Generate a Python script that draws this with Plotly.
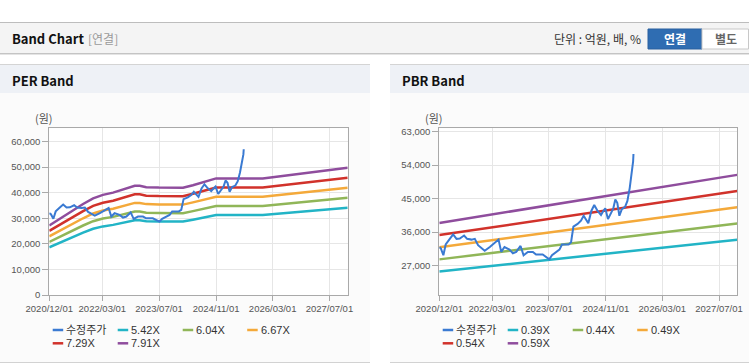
import plotly.graph_objects as go

W, H = 749, 364


def px(x):
    return x / W


def py(y):
    return 1 - y / H


# ---------------- data ----------------
price_label = "수정주가"
price_dates = [
    "2020-12-01", "2020-12-15", "2021-01-05", "2021-01-25", "2021-03-01", "2021-03-30",
    "2021-04-28", "2021-05-26", "2021-07-02", "2021-07-28", "2021-09-03", "2021-10-02",
    "2021-10-30", "2021-12-26", "2022-02-08", "2022-03-20", "2022-04-24", "2022-05-17",
    "2022-06-14", "2022-07-27", "2022-08-25", "2022-09-23", "2022-10-30", "2022-11-25",
    "2023-01-01", "2023-02-13", "2023-03-12", "2023-05-08", "2023-06-06", "2023-07-04",
    "2023-07-27", "2023-08-31", "2023-09-29", "2023-10-21", "2023-11-25", "2023-12-17",
    "2024-01-07", "2024-01-27", "2024-03-03", "2024-04-01", "2024-04-24", "2024-05-14",
    "2024-06-03", "2024-06-29", "2024-07-24", "2024-08-22", "2024-09-20", "2024-10-10",
    "2024-10-27", "2024-11-19", "2024-12-15", "2025-01-04", "2025-01-21", "2025-02-07",
    "2025-02-25", "2025-03-18", "2025-04-15", "2025-05-05", "2025-05-25", "2025-06-12",
    "2025-06-23", "2025-06-26",
]
price_values = [
    32000, 31600, 29800, 32700, 34200, 35400,
    34200, 34300, 35100, 34200, 34000, 34200,
    32500, 31000, 32000, 33100, 34000, 30700,
    32000, 31300, 30300, 30700, 32300, 29800,
    30700, 30700, 30000, 30000, 29400, 28700,
    29800, 30700, 31300, 32700, 32700, 32700,
    33300, 37500, 38200, 39100, 40400, 39500,
    38400, 41700, 43300, 41700, 40600, 41700,
    42400, 39500, 41300, 42400, 44800, 43900,
    40400, 42200, 42800, 44400, 47900, 51900,
    55000, 57000,
]

per_dates = [
    "2020-12-01", "2021-01-18", "2021-03-28", "2021-06-23", "2021-09-17", "2021-12-12",
    "2022-03-06", "2022-06-01", "2022-08-25", "2022-12-04", "2023-01-16", "2023-03-13",
    "2023-06-28", "2023-10-27", "2024-01-22", "2024-04-16", "2024-08-07", "2024-11-01",
    "2025-12-06", "2027-12-05",
]
per_542 = [18650, 19620, 20810, 22600, 24390, 25910, 26830, 27430, 28350, 29270,
           29270, 28890, 28780, 28670, 28730, 29430, 30350, 31250, 31250, 34120]
per_604 = [20780, 21870, 23190, 25190, 27180, 28870, 29900, 30560, 31590, 32620,
           32620, 32190, 32070, 31950, 32010, 32800, 33820, 34820, 34820, 38020]
per_667 = [22950, 24150, 25610, 27810, 30020, 31880, 33020, 33750, 34880, 36020,
           36020, 35550, 35420, 35280, 35350, 36220, 37350, 38450, 38450, 41990]
per_729 = [25080, 26390, 27990, 30400, 32810, 34850, 36090, 36890, 38130, 39370,
           39370, 38860, 38710, 38560, 38640, 39590, 40820, 42030, 42030, 45890]
per_791 = [27210, 28630, 30370, 32990, 35600, 37810, 39160, 40030, 41370, 42710,
           42710, 42160, 42000, 41840, 41920, 42950, 44300, 45600, 45600, 49790]
per_labels = ["5.42X", "6.04X", "6.67X", "7.29X", "7.91X"]

pbr_dates = ["2020-12-01", "2023-07-01", "2027-12-04"]
pbr_039 = [25430, 28590, 33970]
pbr_044 = [28690, 32250, 38320]
pbr_049 = [31950, 35920, 42680]
pbr_054 = [35210, 39580, 47030]
pbr_059 = [38470, 43250, 51390]
pbr_labels = ["0.39X", "0.44X", "0.49X", "0.54X", "0.59X"]

x_tickvals = ["2020-12-01", "2022-03-01", "2023-07-01", "2024-11-01", "2026-03-01", "2027-07-01"]
x_ticktext = ["2020/12/01", "2022/03/01", "2023/07/01", "2024/11/01", "2026/03/01", "2027/07/01"]
per_yticks = [0, 10000, 20000, 30000, 40000, 50000, 60000]
pbr_yticks = [27000, 36000, 45000, 54000, 63000]

# ---------------- style ----------------
price_color = "#3a7ad2"
band_colors = ["#22b4c6", "#90b658", "#f4a93a", "#d1322b", "#8f4d9d"]
LAT = "Liberation Sans, Noto Sans CJK KR"
KR = "Noto Sans CJK KR"

fig = go.Figure()

per_series = [per_542, per_604, per_667, per_729, per_791]
pbr_series = [pbr_039, pbr_044, pbr_049, pbr_054, pbr_059]

for vals, col, lab in zip(per_series, band_colors, per_labels):
    fig.add_trace(go.Scatter(x=per_dates, y=vals, mode="lines", name=lab,
                             line=dict(color=col, width=2.5), xaxis="x", yaxis="y",
                             showlegend=False, hoverinfo="skip"))
fig.add_trace(go.Scatter(x=price_dates, y=price_values, mode="lines", name=price_label,
                         line=dict(color=price_color, width=2), xaxis="x", yaxis="y",
                         showlegend=False, hoverinfo="skip"))

for vals, col, lab in zip(pbr_series, band_colors, pbr_labels):
    fig.add_trace(go.Scatter(x=pbr_dates, y=vals, mode="lines", name=lab,
                             line=dict(color=col, width=2.5), xaxis="x2", yaxis="y2",
                             showlegend=False, hoverinfo="skip"))
fig.add_trace(go.Scatter(x=price_dates, y=price_values, mode="lines", name=price_label,
                         line=dict(color=price_color, width=2), xaxis="x2", yaxis="y2",
                         showlegend=False, hoverinfo="skip"))

# ---------------- layout geometry ----------------
PLOT_TOP, PLOT_BOT = 128.3, 295.0
L_X0, L_X1 = 49.3, 347.7
R_X0, R_X1 = 439.3, 737.3
X_RANGE = ["2020-12-01", "2027-12-05"]

axis_common = dict(showline=True, linecolor="#a9a9a9", linewidth=1, mirror=True,
                   ticks="outside", tickcolor="#a9a9a9", ticklen=5, automargin=False,
                   showgrid=True, gridcolor="#e6e6e6", gridwidth=1, zeroline=False,
                   tickfont=dict(family=LAT, size=9.5, color="#555555"))

xa = dict(axis_common, type="date", range=X_RANGE, tickmode="array",
          tickvals=x_tickvals, ticktext=x_ticktext, ticklen=5)
ya_common = dict(axis_common, tickmode="array", tickformat=",d", ticklen=6)

shapes = []


def rect(x0, y0, x1, y1, fill, line=None, lw=0):
    shapes.append(dict(type="rect", xref="paper", yref="paper",
                       x0=px(x0), x1=px(x1), y0=py(y1), y1=py(y0),
                       fillcolor=fill, layer="below",
                       line=dict(color=line or fill, width=lw)))


def hline(x0, x1, y, color, w=1):
    shapes.append(dict(type="line", xref="paper", yref="paper",
                       x0=px(x0), x1=px(x1), y0=py(y), y1=py(y),
                       line=dict(color=color, width=w), layer="below"))


# header bar
rect(0, 23, 749, 53, "#f4f4f4")
hline(0, 749, 22.5, "#bdbdbd")
hline(0, 749, 53.5, "#c4c4c4")
hline(0, 749, 54.5, "#e4e4e4")
# panels
for x0, x1 in [(0, 370), (390, 749)]:
    rect(x0, 93, x1, 362, "#fbfbfb")
    rect(x0, 64, x1, 93, "#eef1f6")
    hline(x0, x1, 64.5, "#d4d4d4")
    hline(x0, x1, 362.5, "#d2d2d2")
# plot backgrounds
rect(L_X0, PLOT_TOP, L_X1, PLOT_BOT, "#ffffff")
rect(R_X0, PLOT_TOP, R_X1, PLOT_BOT, "#ffffff")
# buttons
rect(648, 29, 702, 49, "#2f6db2", "#2a619f", 1)
rect(702, 29, 748.5, 49, "#ffffff", "#c8c8c8", 1)

annotations = []


def text(x, y, s, size=12, color="#333333", family=KR, xanchor="left"):
    annotations.append(dict(xref="paper", yref="paper", x=px(x), y=py(y), text=s,
                            showarrow=False, xanchor=xanchor, yanchor="middle",
                            font=dict(family=family, size=size, color=color),
                            borderpad=0))


text(11, 38.3, "<b>Band Chart</b>", size=13, color="#111111")
text(87, 38.5, "[연결]", size=12, color="#9a9a9a")
text(642, 39, "단위 : 억원, 배, %", size=12, color="#333333", xanchor="right")
text(675, 39, "<b>연결</b>", size=12, color="#ffffff", xanchor="center")
text(725.5, 39, "<b>별도</b>", size=12, color="#666666", xanchor="center")
text(11, 80.5, "<b>PER Band</b>", size=13, color="#111111")
text(401, 80.5, "<b>PBR Band</b>", size=13, color="#111111")
text(44, 118, "(원)", size=11, color="#555555", xanchor="center")
text(434, 118, "(원)", size=11, color="#555555", xanchor="center")


def legend(x_base, labels):
    items = [(price_label, price_color)] + list(zip(labels, band_colors))
    offsets = [(0, 330), (65, 330), (130, 330), (194.5, 330), (0, 343.3), (65, 343.3)]
    for (lab, col), (dx, yy) in zip(items, offsets):
        x0 = x_base + dx
        shapes.append(dict(type="line", xref="paper", yref="paper",
                           x0=px(x0), x1=px(x0 + 10.5), y0=py(yy), y1=py(yy),
                           line=dict(color=col, width=2.5)))
        text(x0 + 12.5, yy, lab, size=11, color="#333333", family=LAT)


legend(52.7, per_labels)
legend(442.7, pbr_labels)

fig.update_layout(
    width=W, height=H, autosize=False,
    margin=dict(l=0, r=0, t=0, b=0, pad=0, autoexpand=False),
    paper_bgcolor="#ffffff", plot_bgcolor="rgba(0,0,0,0)",
    showlegend=False,
    xaxis=dict(xa, domain=[px(L_X0), px(L_X1)], anchor="y"),
    yaxis=dict(ya_common, domain=[py(PLOT_BOT), py(PLOT_TOP)], anchor="x",
               range=[0, 65200], tickvals=per_yticks),
    xaxis2=dict(xa, domain=[px(R_X0), px(R_X1)], anchor="y2"),
    yaxis2=dict(ya_common, domain=[py(PLOT_BOT), py(PLOT_TOP)], anchor="x2",
                range=[19120, 63900], tickvals=pbr_yticks),
    shapes=shapes,
    annotations=annotations,
)

fig.write_html("out.html", config={"displayModeBar": False},
               post_script="document.body.style.margin='0';document.body.style.overflow='hidden';")
